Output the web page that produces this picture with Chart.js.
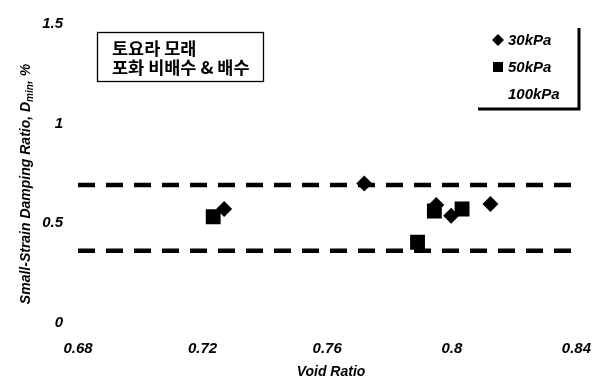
<!DOCTYPE html>
<html>
<head>
<meta charset="utf-8">
<style>
  html, body { margin: 0; padding: 0; background: #ffffff; }
  #wrap { width: 608px; height: 387px; position: relative; }
</style>
<script src="https://cdn.jsdelivr.net/npm/chart.js@4/dist/chart.umd.min.js"></script>
</head>
<body>
<div id="wrap"><canvas id="c" width="608" height="387"></canvas></div>
<script>
// Minimum damping ratio against void ratio, Toyoura sand
const seriesLabels = ['30kPa', '50kPa', '100kPa'];
const voidRatio30 = [0.7269, 0.7719, 0.7950, 0.7998, 0.8124];
const damping30   = [0.572, 0.700, 0.592, 0.538, 0.597];
const voidRatio50 = [0.7234, 0.7890, 0.7944, 0.8033];
const damping50   = [0.533, 0.405, 0.562, 0.572];
const voidRatio100 = [];
const damping100   = [];

// Upper and lower bounds of the data band
const bandX = [0.68, 0.8385];
const bandUpper = 0.692;
const bandLower = 0.362;

const xTicks = [0.68, 0.72, 0.76, 0.8, 0.84];
const yTicks = [0, 0.5, 1, 1.5];

const noteLines = ['토요라 모래', '포화 비배수 & 배수'];
const xTitle = 'Void Ratio';

const toPoints = (xs, ys) => xs.map((x, i) => ({ x: x, y: ys[i] }));

const tickFont = { family: '"Liberation Sans", Arial, sans-serif', size: 15, weight: 'bold', style: 'italic' };

// Text annotations, legend and axis titles
const decorations = {
  id: 'decorations',
  afterDraw(chart) {
    const ctx = chart.ctx;
    ctx.save();

    // note box
    ctx.strokeStyle = '#000';
    ctx.lineWidth = 1.3;
    ctx.strokeRect(97.5, 32.5, 166, 49);
    ctx.fillStyle = '#000';
    ctx.font = 'bold 17.5px "Noto Sans CJK KR", sans-serif';
    ctx.textBaseline = 'middle';
    ctx.textAlign = 'left';
    ctx.fillText(noteLines[0], 112, 48);
    ctx.fillText(noteLines[1], 112, 67);

    // legend with a drop shadow frame
    ctx.lineWidth = 3;
    ctx.beginPath();
    ctx.moveTo(579, 28);
    ctx.lineTo(579, 109);
    ctx.lineTo(478, 109);
    ctx.stroke();
    ctx.font = 'bold italic 15px "Liberation Sans", Arial, sans-serif';
    const rows = [40, 67, 94];
    chart.data.datasets.filter(d => d.inLegend).forEach((d, i) => {
      const y = rows[i];
      if (d.pointStyle === 'rectRot') {
        ctx.beginPath();
        ctx.moveTo(492, y); ctx.lineTo(498, y - 6); ctx.lineTo(504, y); ctx.lineTo(498, y + 6);
        ctx.closePath(); ctx.fill();
      } else if (d.pointStyle === 'rect') {
        ctx.fillRect(493, y - 5, 10, 10);
      }
      ctx.fillText(d.label, 508, y + 1);
    });

    // x axis title
    ctx.textAlign = 'center';
    ctx.font = 'bold italic 14px "Liberation Sans", Arial, sans-serif';
    ctx.fillText(xTitle, 331, 372);

    // y axis title with subscript
    ctx.translate(26, 184);
    ctx.rotate(-Math.PI / 2);
    const big = 'bold italic 14px "Liberation Sans", Arial, sans-serif';
    const small = 'bold italic 10px "Liberation Sans", Arial, sans-serif';
    const parts = [
      { t: 'Small-Strain Damping Ratio, ', f: big, dy: 0 },
      { t: 'D', f: big, dy: 0 },
      { t: 'min', f: small, dy: 4 },
      { t: ', %', f: big, dy: 0 }
    ];
    let total = 0;
    parts.forEach(p => { ctx.font = p.f; p.w = ctx.measureText(p.t).width; total += p.w; });
    let x = -total / 2;
    ctx.textAlign = 'left';
    parts.forEach(p => { ctx.font = p.f; ctx.fillText(p.t, x, p.dy); x += p.w; });

    ctx.restore();
  }
};

new Chart(document.getElementById('c'), {
  data: {
    datasets: [
      {
        type: 'scatter', label: seriesLabels[0], inLegend: true,
        data: toPoints(voidRatio30, damping30),
        pointStyle: 'rectRot', pointRadius: 8, pointHoverRadius: 8,
        backgroundColor: '#000', borderColor: '#000', borderWidth: 0
      },
      {
        type: 'scatter', label: seriesLabels[1], inLegend: true,
        data: toPoints(voidRatio50, damping50),
        pointStyle: 'rect', pointRadius: 10.5, pointHoverRadius: 10.5,
        backgroundColor: '#000', borderColor: '#000', borderWidth: 0
      },
      {
        type: 'scatter', label: seriesLabels[2], inLegend: true,
        data: toPoints(voidRatio100, damping100),
        pointStyle: 'triangle', pointRadius: 0,
        backgroundColor: '#000', borderColor: '#000'
      },
      {
        type: 'line', label: 'upper', inLegend: false,
        data: toPoints(bandX, [bandUpper, bandUpper]),
        borderColor: '#000', borderWidth: 4.5, borderDash: [17, 11],
        pointRadius: 0, fill: false
      },
      {
        type: 'line', label: 'lower', inLegend: false,
        data: toPoints(bandX, [bandLower, bandLower]),
        borderColor: '#000', borderWidth: 4.5, borderDash: [17, 11],
        pointRadius: 0, fill: false
      }
    ]
  },
  options: {
    responsive: false,
    animation: false,
    events: [],
    layout: { padding: { top: 19, right: 25, left: 0, bottom: 0 } },
    plugins: { legend: { display: false }, tooltip: { enabled: false } },
    scales: {
      x: {
        type: 'linear', min: 0.68, max: 0.84,
        border: { display: false },
        grid: { display: false, drawTicks: false },
        afterBuildTicks: s => { s.ticks = xTicks.map(v => ({ value: v })); },
        afterFit: s => { s.height = 64; },
        ticks: {
          color: '#000', font: tickFont, padding: 17, maxRotation: 0,
          callback: v => String(v)
        }
      },
      y: {
        type: 'linear', min: 0, max: 1.5,
        border: { display: false },
        grid: { display: false, drawTicks: false },
        afterBuildTicks: s => { s.ticks = yTicks.map(v => ({ value: v })); },
        afterFit: s => { s.width = 78; },
        ticks: {
          color: '#000', font: tickFont, padding: 15,
          callback: v => String(v)
        }
      }
    }
  },
  plugins: [decorations]
});
</script>
</body>
</html>
